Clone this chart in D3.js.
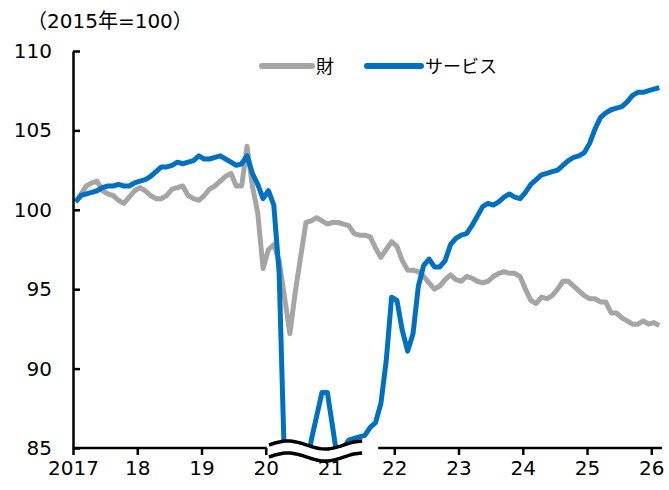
<!DOCTYPE html>
<html>
<head>
<meta charset="utf-8">
<script src="https://cdn.jsdelivr.net/npm/d3@7"></script>
<style>
  body { margin: 0; background: #fff; }
  svg text { font-family: "DejaVu Sans", "Noto Sans CJK JP", sans-serif; fill: #000; }
</style>
</head>
<body>
<svg width="669" height="490"></svg>
<script>
const yearLabels = ['2017', '18', '19', '20', '21', '22', '23', '24', '25', '26'];
const seriesNames = ['財', 'サービス'];

// monthly, Jan 2017 - Feb 2026 (2015 = 100)
const goods = [
  100.5, 101.0, 101.5, 101.7, 101.8, 101.2, 101.0, 100.9, 100.6, 100.4, 100.8, 101.2,
  101.4, 101.2, 100.9, 100.7, 100.7, 100.9, 101.3, 101.4, 101.5, 100.9, 100.7, 100.6,
  100.9, 101.3, 101.5, 101.8, 102.1, 102.3, 101.5, 101.5, 104.0, 101.5, 99.8, 96.3,
  97.5, 97.8, 96.8, 94.5, 92.2, 94.8, 97.0, 99.2, 99.3, 99.5, 99.3, 99.1,
  99.2, 99.2, 99.1, 99.0, 98.5, 98.4, 98.4, 98.3, 97.6, 97.0, 97.5, 98.0,
  97.7, 96.8, 96.2, 96.2, 96.1, 95.8, 95.4, 95.0, 95.2, 95.6, 95.9, 95.6,
  95.5, 95.8, 95.7, 95.5, 95.4, 95.5, 95.8, 96.0, 96.1, 96.0, 96.0, 95.8,
  95.0, 94.3, 94.1, 94.5, 94.4, 94.6, 95.0, 95.5, 95.5, 95.2, 94.9, 94.6,
  94.4, 94.4, 94.2, 94.2, 93.5, 93.5, 93.2, 93.0, 92.8, 92.8, 93.0, 92.8,
  92.9, 92.7
];

const services = [
  100.5, 100.9, 101.0, 101.1, 101.2, 101.4, 101.5, 101.5, 101.6, 101.5, 101.5, 101.7,
  101.8, 101.9, 102.1, 102.4, 102.7, 102.7, 102.8, 103.0, 102.9, 103.0, 103.1, 103.4,
  103.2, 103.2, 103.3, 103.4, 103.2, 103.0, 102.8, 102.9, 103.4, 102.3, 101.6, 100.7,
  101.2, 100.3, 96.0, 84.0, 76.0, 77.0, 80.0, 83.5, 85.5, 87.0, 88.5, 88.5,
  86.3, 84.0, 85.0, 85.5, 85.6, 85.7, 85.8, 86.3, 86.6, 87.8, 90.5, 94.5,
  94.3, 92.4, 91.1, 92.2, 95.2, 96.5, 96.9, 96.4, 96.4, 96.8, 97.8, 98.2,
  98.4, 98.5, 99.0, 99.6, 100.2, 100.4, 100.3, 100.5, 100.8, 101.0, 100.8, 100.7,
  101.1, 101.6, 101.9, 102.2, 102.3, 102.4, 102.5, 102.8, 103.1, 103.3, 103.4, 103.6,
  104.2, 105.1, 105.8, 106.1, 106.3, 106.4, 106.5, 106.8, 107.2, 107.4, 107.4, 107.5,
  107.6, 107.7
];

const yTicks = [85, 90, 95, 100, 105, 110];
const colors = ['#a5a5a5', '#0070c0'];

const svg = d3.select('svg');
const margin = {left: 73, right: 662, top: 51, bottom: 448};

const x = d3.scaleLinear()
  .domain([0, goods.length])
  .range([margin.left, margin.right]);

const y = d3.scaleLinear()
  .domain([85, 110])
  .range([margin.bottom, margin.top]);

// title
svg.append('text')
  .attr('x', 27)
  .attr('y', 28)
  .style('font-size', '20px')
  .text('（2015年=100）');

svg.append('clipPath')
  .attr('id', 'plot')
  .append('rect')
    .attr('x', margin.left)
    .attr('y', 0)
    .attr('width', margin.right - margin.left + 10)
    .attr('height', margin.bottom);

const line = d3.line()
  .x((d, i) => x(i + 0.5))
  .y(d => y(d));

const g = svg.append('g').attr('clip-path', 'url(#plot)');
[goods, services].forEach((s, k) => {
  g.append('path')
    .datum(s)
    .attr('fill', 'none')
    .attr('stroke', colors[k])
    .attr('stroke-width', 5)
    .attr('stroke-linejoin', 'round')
    .attr('d', line);
});

// y axis, ticks pointing inward
const yAxis = svg.append('g')
  .attr('transform', `translate(${margin.left},0)`)
  .call(d3.axisLeft(y)
    .tickValues(yTicks)
    .tickSizeInner(-7)
    .tickSizeOuter(0)
    .tickPadding(21));
yAxis.selectAll('text').style('font-size', '20px');
yAxis.select('.domain').attr('stroke-width', 2.5);
yAxis.selectAll('.tick line').attr('stroke-width', 2.5);

// x axis with a break around 2020-21
const gapStart = x(36.2), gapEnd = x(57);
const xAxis = svg.append('g')
  .attr('transform', `translate(0,${margin.bottom})`)
  .call(d3.axisBottom(x)
    .tickValues(d3.range(yearLabels.length).map(i => i * 12))
    .tickFormat((d, i) => yearLabels[i])
    .tickSizeInner(7)
    .tickSizeOuter(0)
    .tickPadding(6));
xAxis.select('.domain').remove();
xAxis.selectAll('text').style('font-size', '20px');
xAxis.selectAll('.tick line')
  .attr('stroke-width', 2.5)
  .attr('display', d => (x(d) > gapStart && x(d) < gapEnd) ? 'none' : null);

[[margin.left, gapStart], [gapEnd, margin.right]].forEach(([a, b]) => {
  svg.append('line')
    .attr('x1', a).attr('x2', b)
    .attr('y1', margin.bottom).attr('y2', margin.bottom)
    .attr('stroke', '#000')
    .attr('stroke-width', 2.5);
});

// wavy break mark
const w0 = x(36.6), w1 = x(54);
const wave = off => d3.range(0, 41).map(j => {
  const px = w0 + (w1 - w0) * j / 40;
  return [px, margin.bottom - 3 + off - 4 * Math.sin(2 * Math.PI * (px - w0) / 75)];
});
const wTop = wave(0), wBot = wave(12);
svg.append('path')
  .attr('d', d3.line()(wTop.concat(wBot.slice().reverse())) + 'Z')
  .attr('fill', '#fff');
[wTop, wBot].forEach(p => {
  svg.append('path')
    .attr('d', d3.line().curve(d3.curveBasis)(p))
    .attr('fill', 'none')
    .attr('stroke', '#000')
    .attr('stroke-width', 3.5);
});

// legend
const legend = [{x: 262, w: 50}, {x: 367, w: 54}];
legend.forEach((l, k) => {
  svg.append('line')
    .attr('x1', l.x).attr('x2', l.x + l.w)
    .attr('y1', 66).attr('y2', 66)
    .attr('stroke', colors[k])
    .attr('stroke-width', 6)
    .attr('stroke-linecap', 'round');
  svg.append('text')
    .attr('x', l.x + l.w + 4)
    .attr('y', 73)
    .style('font-size', '18px')
    .text(seriesNames[k]);
});
</script>
</body>
</html>
